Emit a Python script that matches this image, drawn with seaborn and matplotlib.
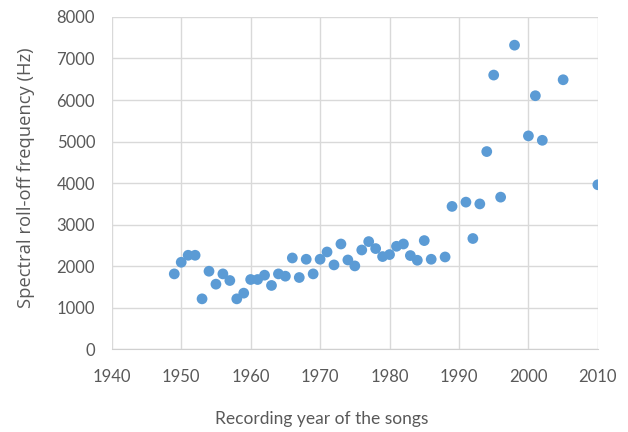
import matplotlib
matplotlib.use("Agg")
import matplotlib.pyplot as plt
import seaborn as sns
import pandas as pd

years = [1949, 1950, 1951, 1952, 1953, 1954, 1955, 1956, 1957, 1958,
         1959, 1960, 1961, 1962, 1963, 1964, 1965, 1966, 1967, 1968,
         1969, 1970, 1971, 1972, 1973, 1974, 1975, 1976, 1977, 1978,
         1979, 1980, 1981, 1982, 1983, 1984, 1985, 1986, 1988, 1989,
         1991, 1992, 1993, 1994, 1995, 1996, 1998, 2000, 2001, 2002,
         2005, 2010]
rolloff = [1818, 2098, 2266, 2266, 1218, 1882, 1571, 1818, 1659, 1218,
           1355, 1683, 1683, 1787, 1540, 1818, 1763, 2201, 1731, 2170,
           1818, 2170, 2345, 2034, 2537, 2153, 2010, 2393, 2595, 2427,
           2235, 2283, 2482, 2537, 2259, 2146, 2619, 2170, 2225, 3441,
           3544, 2669, 3501, 4760, 6600, 3664, 7319, 5137, 6103, 5031,
           6487, 3962]
x_ticks = [1940, 1950, 1960, 1970, 1980, 1990, 2000, 2010]
y_ticks = [0, 1000, 2000, 3000, 4000, 5000, 6000, 7000, 8000]

df = pd.DataFrame({"year": years, "rolloff": rolloff})

sns.set_style("white")
plt.rcParams["font.family"] = ["Lato", "DejaVu Sans"]

fig = plt.figure(figsize=(6.28, 4.32), dpi=100)
ax = fig.add_axes([0.178, 0.191, 0.774, 0.770])

sns.scatterplot(data=df, x="year", y="rolloff", ax=ax, color="#5B9BD5",
                s=60, edgecolor="none", zorder=3)

ax.set_xlim(1940, 2010)
ax.set_ylim(0, 8000)
ax.set_xticks(x_ticks)
ax.set_yticks(y_ticks)
ax.grid(True, color="#d9d9d9", linewidth=1.0)
for s in ax.spines.values():
    s.set_visible(False)
ax.spines["bottom"].set_visible(True)
ax.spines["bottom"].set_color("#d0d0d0")
ax.tick_params(axis="both", length=0, labelsize=12, labelcolor="#595959")
ax.tick_params(axis="x", pad=14)
ax.tick_params(axis="y", pad=12)
ax.set_xlabel("Recording year of the songs", fontsize=12.5, color="#595959",
              va="center")
ax.xaxis.set_label_coords(0.432, -0.209)
ax.set_ylabel("Spectral roll-off frequency (Hz)", fontsize=13.2, color="#595959",
              family=["Open Sans", "DejaVu Sans"], va="center")
ax.yaxis.set_label_coords(-0.177, 0.516)

fig.savefig("out.png", dpi=100)
